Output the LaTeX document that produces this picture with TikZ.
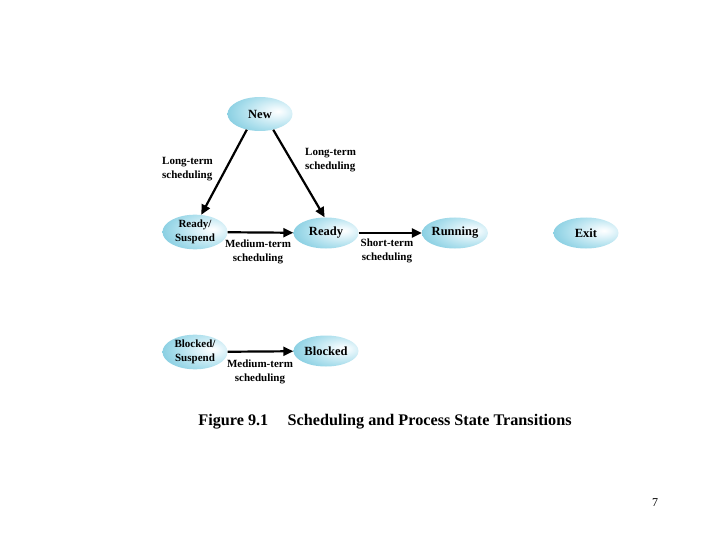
\documentclass[tikz,border=0pt]{standalone}
\usepackage{fontspec}
\setmainfont{Liberation Serif}
\usetikzlibrary{shapes.geometric,arrows.meta}
\pgfdeclareradialshading{stshade}{\pgfpoint{14bp}{4bp}}{%
  color(0bp)=(white);
  color(6bp)=(rgb,255:red,236;green,248;blue,252);
  color(25bp)=(rgb,255:red,170;green,222;blue,236);
  color(45bp)=(rgb,255:red,105;green,192;blue,216);
  color(60bp)=(rgb,255:red,70;green,172;blue,203);
  color(100bp)=(rgb,255:red,70;green,172;blue,203)}
\tikzset{
  state/.style={ellipse, minimum width=65pt, minimum height=31pt, inner sep=0pt,
    shading=stshade,
    font=\bfseries\fontsize{12.5}{13}\selectfont, align=center},
  smallstate/.style={state, font=\bfseries\fontsize{11}{14.5}\selectfont},
  trans/.style={draw=black, line width=2.2pt, -{Triangle[length=10pt,width=9pt]}},
  lbl/.style={font=\bfseries\fontsize{11}{14}\selectfont, align=center, inner sep=0pt},
}
\begin{document}
\begin{tikzpicture}[x=1pt,y=-1pt]
\useasboundingbox (0,0) rectangle (720,540);
\node[state, minimum height=34pt] (new) at (260,114) {New};
\node[smallstate] (rs) at (195,232) {Ready/\\Suspend};
\node[state] (ready) at (326,233) {Ready};
\node[state] (run) at (455,233) {Running};
\node[state] (exit) at (586,233) {Exit};
\node[smallstate] (bs) at (195,352) {Blocked/\\Suspend};
\node[state] (blk) at (326,351) {Blocked};

\draw[trans] (new.230) -- (rs.70);
\draw[trans] (new.310) -- (ready.95);
\draw[trans] (rs) -- (ready);
\draw[trans] (ready) -- (run);
\draw[trans] (bs) -- (blk);

\node[lbl, align=left, anchor=west] (l1) at (162,169) {Long-term\\scheduling};
\node[lbl, align=left, anchor=west] (l2) at (305,160) {Long-term\\scheduling};
\node[lbl] (l3) at (258,252) {Medium-term\\scheduling};
\node[lbl] (l4) at (387,251) {Short-term\\scheduling};
\node[lbl] (l5) at (260,372) {Medium-term\\scheduling};

\node[font=\bfseries\fontsize{16.2}{17}\selectfont, inner sep=0pt] (cap) at (385,422) {Figure 9.1\hspace{1.2em}Scheduling and Process State Transitions};
\node[font=\fontsize{12}{13}\selectfont, inner sep=0pt] (pg) at (655,503) {7};
\end{tikzpicture}
\end{document}
